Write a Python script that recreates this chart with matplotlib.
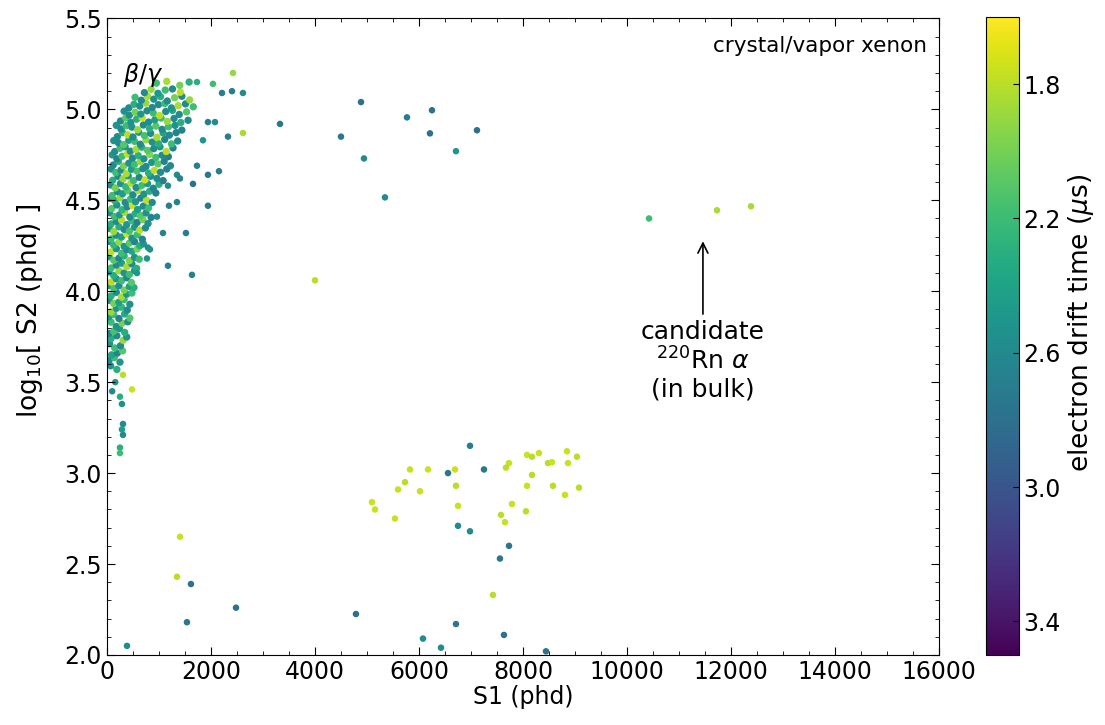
import numpy as np
import matplotlib.pyplot as plt
from matplotlib.ticker import MultipleLocator

# dense beta/gamma band, one entry per row of the band
bulk_row_logs2 = [3.58, 3.62, 3.66, 3.70, 3.74, 3.78, 3.82, 3.86, 3.90, 3.94,
                  3.98, 4.02, 4.06, 4.10, 4.14, 4.18, 4.22, 4.26, 4.30, 4.34,
                  4.38, 4.42, 4.46, 4.50, 4.54, 4.58, 4.62, 4.66, 4.70, 4.74,
                  4.78, 4.82, 4.86, 4.90, 4.94, 4.98, 5.02, 5.06, 5.10, 5.14]
bulk_row_s1 = [
    [70, 190],
    [40, 140, 250],
    [90, 200, 300],
    [50, 150, 260],
    [80, 190, 310, 380],
    [40, 130, 240, 340],
    [80, 180, 290, 400],
    [40, 130, 230, 340, 440],
    [80, 180, 280, 390],
    [40, 130, 230, 330, 440],
    [80, 180, 280, 380, 480],
    [40, 130, 230, 330, 430, 520],
    [80, 180, 280, 380, 470],
    [40, 130, 230, 330, 430, 530],
    [80, 180, 280, 380, 480, 570],
    [40, 130, 230, 330, 430, 530, 620],
    [80, 180, 280, 380, 480, 580],
    [40, 130, 230, 330, 430, 530, 630, 700],
    [80, 180, 280, 380, 480, 580, 680],
    [40, 130, 230, 330, 430, 530, 630, 740],
    [80, 180, 280, 380, 480, 580, 690, 790],
    [50, 140, 240, 340, 440, 540, 640, 750, 850],
    [90, 190, 290, 390, 490, 590, 700, 800],
    [60, 150, 250, 350, 450, 550, 650, 760, 870],
    [100, 200, 300, 400, 500, 600, 710, 820, 940],
    [70, 160, 260, 360, 460, 560, 670, 780, 890, 1000],
    [110, 210, 310, 410, 510, 620, 730, 840, 960, 1080],
    [80, 170, 270, 370, 470, 580, 690, 800, 910, 1030, 1150],
    [120, 220, 320, 420, 530, 640, 750, 860, 980, 1100, 1220],
    [100, 190, 290, 390, 490, 600, 710, 820, 940, 1060, 1180],
    [150, 250, 350, 450, 560, 670, 780, 900, 1020, 1140, 1270],
    [130, 220, 320, 420, 530, 640, 750, 870, 990, 1110, 1240, 1360],
    [200, 300, 400, 500, 610, 720, 840, 960, 1080, 1200, 1330],
    [180, 270, 370, 480, 590, 700, 820, 940, 1060, 1180, 1310, 1440],
    [260, 360, 460, 570, 680, 800, 920, 1040, 1160, 1290, 1420, 1560],
    [330, 430, 540, 650, 770, 890, 1010, 1130, 1260, 1390, 1530],
    [420, 520, 630, 750, 870, 990, 1110, 1240, 1370, 1510, 1660],
    [540, 660, 780, 900, 1030, 1160, 1300, 1440, 1590],
    [720, 850, 980, 1120, 1260, 1410],
    [950, 1150, 1400, 1580],
]
# small vertical offsets of the points inside each row
bulk_row_dy = [
    [0.01, -0.01],
    [0.0, 0.015, -0.01],
    [-0.01, 0.0, 0.012],
    [0.012, -0.012, 0.0],
    [0.0, 0.015, -0.01, 0.008],
    [-0.012, 0.0, 0.014, -0.006],
    [0.01, -0.014, 0.004, 0.012],
    [0.0, 0.012, -0.01, 0.015, -0.008],
    [-0.014, 0.006, 0.012, -0.004],
    [0.01, -0.008, 0.0, 0.014, -0.012],
    [-0.006, 0.014, -0.012, 0.004, 0.01],
    [0.012, -0.004, 0.01, -0.014, 0.006, 0.0],
    [-0.01, 0.008, -0.002, 0.014, -0.012],
    [0.006, -0.014, 0.012, 0.0, -0.008, 0.014],
    [-0.012, 0.004, 0.014, -0.006, 0.01, -0.014],
    [0.01, -0.01, 0.002, 0.014, -0.012, 0.006, -0.004],
    [-0.004, 0.014, -0.012, 0.008, 0.0, 0.012],
    [0.014, -0.006, 0.01, -0.014, 0.004, 0.012, -0.01, 0.0],
    [-0.012, 0.008, -0.002, 0.014, -0.008, 0.01, -0.014],
    [0.006, -0.012, 0.014, 0.0, -0.01, 0.012, -0.004, 0.008],
    [-0.01, 0.004, 0.012, -0.014, 0.008, -0.002, 0.014, -0.008],
    [0.012, -0.01, 0.0, 0.014, -0.012, 0.006, -0.004, 0.01, -0.014],
    [-0.006, 0.014, -0.012, 0.004, 0.012, -0.01, 0.008, -0.002],
    [0.01, -0.002, 0.014, -0.012, 0.006, -0.008, 0.012, 0.0, -0.012],
    [-0.014, 0.008, -0.004, 0.012, -0.01, 0.014, -0.006, 0.01, 0.0],
    [0.004, -0.012, 0.012, -0.006, 0.014, -0.01, 0.002, 0.012, -0.014, 0.008],
    [-0.01, 0.012, -0.002, 0.014, -0.012, 0.006, -0.008, 0.012, 0.0, -0.012],
    [0.012, -0.008, 0.006, -0.014, 0.01, 0.0, 0.014, -0.01, 0.004, -0.006, 0.012],
    [-0.006, 0.014, -0.012, 0.004, -0.002, 0.012, -0.014, 0.008, 0.0, 0.014, -0.01],
    [0.01, -0.012, 0.002, 0.014, -0.008, 0.006, -0.012, 0.012, -0.004, 0.008, 0.0],
    [-0.012, 0.006, 0.014, -0.01, 0.0, 0.012, -0.006, 0.004, 0.014, -0.012, 0.008],
    [0.008, -0.004, -0.014, 0.01, 0.004, -0.012, 0.012, 0.0, -0.008, 0.014, -0.01, 0.006],
    [-0.01, 0.012, 0.0, -0.012, 0.014, -0.004, 0.008, -0.014, 0.01, -0.002, 0.012],
    [0.012, -0.008, 0.01, 0.002, -0.012, 0.014, -0.006, 0.008, -0.01, 0.004, 0.012, -0.014],
    [-0.004, 0.012, -0.012, 0.006, 0.014, -0.01, 0.002, 0.012, -0.006, 0.01, -0.012, 0.0],
    [0.01, -0.012, 0.004, -0.006, 0.012, 0.0, -0.014, 0.008, 0.014, -0.008, 0.006],
    [-0.012, 0.008, -0.002, 0.014, -0.01, 0.006, 0.012, -0.012, 0.0, 0.01, -0.006],
    [0.006, -0.01, 0.012, -0.004, 0.01, -0.014, 0.004, 0.012, -0.008],
    [-0.008, 0.01, -0.012, 0.006, 0.012, -0.006],
    [0.004, 0.014, -0.008, 0.01],
]
bulk_row_drift = [
    [2.55, 2.3],
    [2.6, 2.2, 2.5],
    [2.4, 2.65, 2.1],
    [2.55, 2.2, 2.6],
    [2.3, 2.6, 1.9, 2.5],
    [2.65, 2.15, 2.5, 2.3],
    [2.2, 2.55, 2.0, 2.6],
    [2.5, 2.2, 2.65, 2.35, 2.1],
    [1.9, 2.55, 2.25, 2.6],
    [2.6, 2.0, 2.45, 2.2, 2.55],
    [2.3, 2.6, 1.85, 2.5, 2.2],
    [2.55, 2.15, 2.6, 2.0, 2.45, 2.3],
    [1.8, 2.5, 2.2, 2.65, 2.1],
    [2.6, 2.3, 1.9, 2.55, 2.2, 2.5],
    [2.2, 2.6, 2.45, 1.85, 2.6, 2.3],
    [2.5, 2.1, 2.65, 2.3, 1.95, 2.55, 2.2],
    [1.8, 2.55, 2.2, 2.6, 2.4, 2.0],
    [2.6, 2.25, 1.9, 2.55, 2.1, 2.65, 2.3, 2.5],
    [2.2, 2.6, 2.45, 1.75, 2.55, 2.2, 2.65],
    [2.55, 1.9, 2.3, 2.6, 2.15, 2.5, 1.8, 2.6],
    [2.3, 2.6, 1.8, 2.5, 2.2, 2.65, 2.0, 2.55],
    [2.6, 2.2, 2.5, 1.85, 2.6, 2.3, 2.1, 2.55, 2.65],
    [2.1, 2.55, 2.25, 2.6, 1.75, 2.45, 2.6, 2.2],
    [2.55, 2.3, 1.9, 2.6, 2.2, 2.5, 2.65, 1.8, 2.6],
    [2.2, 2.6, 2.45, 2.1, 2.6, 1.85, 2.55, 2.3, 2.65],
    [2.6, 2.0, 2.55, 2.25, 1.8, 2.6, 2.2, 2.5, 2.65, 2.3],
    [2.3, 2.6, 1.9, 2.5, 2.2, 2.65, 1.75, 2.55, 2.6, 2.7],
    [2.55, 2.2, 2.6, 1.85, 2.45, 2.15, 2.6, 2.3, 1.8, 2.6, 2.65],
    [2.6, 2.3, 2.0, 2.55, 2.2, 1.9, 2.6, 2.5, 2.1, 2.65, 2.6],
    [2.5, 2.65, 2.2, 1.8, 2.6, 2.3, 2.55, 1.95, 2.2, 2.6, 2.7],
    [2.6, 2.2, 2.5, 2.6, 1.85, 2.3, 2.1, 2.6, 2.5, 1.8, 2.65],
    [2.55, 2.6, 2.1, 2.45, 2.2, 2.6, 1.9, 2.55, 2.3, 2.65, 2.2, 2.6],
    [2.6, 2.3, 1.8, 2.6, 2.5, 2.15, 2.6, 1.85, 2.4, 2.6, 2.65],
    [2.5, 2.6, 2.2, 2.55, 1.9, 2.6, 2.3, 2.1, 2.6, 2.2, 2.55, 2.65],
    [2.6, 2.1, 2.55, 2.3, 1.75, 2.6, 2.45, 2.2, 1.9, 2.6, 2.3, 2.6],
    [2.55, 2.6, 2.0, 2.5, 2.6, 2.2, 1.8, 2.6, 2.35, 2.6, 2.1],
    [2.6, 2.3, 2.55, 1.9, 2.6, 2.6, 2.2, 2.5, 1.85, 2.6, 2.2],
    [2.2, 2.6, 1.85, 2.55, 2.3, 2.6, 2.0, 2.6, 1.9],
    [2.6, 1.9, 2.5, 2.2, 2.6, 1.8],
    [2.2, 1.85, 2.0, 2.3],
]

# scattered events outside the dense band
sparse_s1 = [2423, 2615, 2212, 2404, 2615, 1731, 2038, 1942, 2077, 2327,
             1846, 1731, 1942, 2154, 1654, 1346, 1404, 1173, 1346, 1192,
             1942, 962, 1077, 1519, 788, 827, 1173, 1635, 769, 577,
             308, 481, 250, 288, 308, 288, 308, 250, 250, 160, 100,
             3327, 4885, 4500, 4942, 5769, 6250, 6211, 6711, 7115, 5346,
             4000, 10423, 11730, 12384,
             5096, 5154, 5538, 5596, 5731, 5827, 6019, 6173, 6558, 6692,
             6711, 6750, 6981, 7250, 6750, 6981, 7557, 7731, 7423, 7634,
             7730, 7673, 8077, 8173, 8307, 8480, 8557, 8846, 9038, 8865,
             8173, 8077, 8576, 8807, 9077, 7788, 7577, 7654, 8057,
             1404, 1346, 1615, 1538, 2481, 4788, 385, 6077, 6423, 6711, 8442]
sparse_logs2 = [5.20, 4.87, 5.09, 5.10, 5.09, 5.15, 5.14, 4.93, 4.93, 4.85,
                4.83, 4.69, 4.64, 4.66, 4.59, 4.64, 4.62, 4.58, 4.49, 4.47,
                4.47, 4.41, 4.32, 4.32, 4.24, 4.23, 4.14, 4.09, 4.18, 4.10,
                3.54, 3.46, 3.42, 3.38, 3.27, 3.24, 3.21, 3.14, 3.11, 3.50, 3.45,
                4.92, 5.04, 4.85, 4.73, 4.956, 4.995, 4.868, 4.77, 4.885, 4.516,
                4.06, 4.40, 4.445, 4.467,
                2.84, 2.80, 2.75, 2.91, 2.95, 3.02, 2.90, 3.02, 3.00, 3.02,
                2.93, 2.82, 3.15, 3.02, 2.71, 2.68, 2.53, 2.60, 2.33, 2.11,
                3.055, 3.03, 3.10, 3.09, 3.11, 3.055, 3.06, 3.12, 3.09, 3.055,
                2.99, 2.93, 2.93, 2.88, 2.92, 2.83, 2.77, 2.73, 2.79,
                2.65, 2.43, 2.39, 2.18, 2.26, 2.225, 2.05, 2.09, 2.04, 2.17, 2.02]
sparse_drift = [1.9, 1.85, 2.7, 2.7, 2.6, 2.3, 2.2, 2.7, 2.6, 2.7,
                2.5, 2.7, 2.75, 2.7, 2.8, 2.6, 2.65, 2.6, 2.65, 2.7,
                2.75, 2.6, 2.65, 2.7, 2.6, 2.55, 2.7, 2.65, 2.5, 2.5,
                1.8, 1.75, 2.3, 2.55, 2.6, 2.45, 2.6, 2.3, 2.2, 2.5, 2.6,
                2.75, 2.8, 2.75, 2.6, 2.7, 2.8, 2.8, 2.5, 2.8, 2.6,
                1.8, 2.2, 1.85, 1.85,
                1.75, 1.75, 1.75, 1.75, 1.8, 1.75, 1.75, 1.75, 2.75, 1.75,
                1.8, 1.75, 2.7, 2.75, 2.6, 2.6, 2.75, 2.75, 1.8, 2.8,
                1.75, 1.8, 1.75, 1.8, 1.75, 1.8, 1.75, 1.75, 1.8, 1.75,
                1.8, 1.75, 1.8, 1.75, 1.8, 1.75, 1.8, 1.75, 1.8,
                1.75, 1.8, 2.8, 2.75, 2.8, 2.8, 2.6, 2.6, 2.6, 2.75, 2.8]

bulk_s1 = np.concatenate([np.array(r, float) for r in bulk_row_s1])
bulk_logs2 = np.concatenate([y + np.array(d) for y, d in zip(bulk_row_logs2, bulk_row_dy)])
bulk_drift = np.concatenate([np.array(r, float) for r in bulk_row_drift])

plt.rcParams['font.family'] = 'DejaVu Sans'
fig = plt.figure(figsize=(11.05, 7.25), dpi=100)
ax = fig.add_axes([0.0968, 0.0966, 0.753, 0.878])
cax = fig.add_axes([0.892, 0.0966, 0.030, 0.880])

sc = ax.scatter(bulk_s1, bulk_logs2, c=bulk_drift, cmap='viridis_r', vmin=1.6, vmax=3.5,
                s=28, linewidths=0)
ax.scatter(sparse_s1, sparse_logs2, c=sparse_drift, cmap='viridis_r', vmin=1.6, vmax=3.5,
           s=22, linewidths=0)

ax.set_xlim(0, 16000)
ax.set_ylim(2.0, 5.5)
ax.xaxis.set_major_locator(MultipleLocator(2000))
ax.xaxis.set_minor_locator(MultipleLocator(500))
ax.yaxis.set_major_locator(MultipleLocator(0.5))
ax.yaxis.set_minor_locator(MultipleLocator(0.1))
ax.tick_params(which='both', direction='in', top=True, right=True, labelsize=17)
ax.tick_params(which='major', length=6)
ax.tick_params(which='minor', length=3)
ax.set_xlabel('S1 (phd)', fontsize=17, labelpad=1)
ax.set_ylabel(r'log$_{10}$[ S2 (phd) ]', fontsize=19)
ax.yaxis.set_label_coords(-0.075, 0.54)

ax.text(300, 5.19, r'$\beta/\gamma$', fontsize=17, va='center')
ax.text(0.985, 0.972, 'crystal/vapor xenon', transform=ax.transAxes,
        ha='right', va='top', fontsize=15.5)
ax.annotate('candidate\n$^{220}$Rn $\\alpha$\n(in bulk)', xy=(11460, 4.29),
            xytext=(11460, 3.62), ha='center', va='center', fontsize=18,
            linespacing=1.15, arrowprops=dict(arrowstyle='->', color='black', lw=1.2))

cb = fig.colorbar(sc, cax=cax)
cb.ax.invert_yaxis()
cb.set_ticks([1.8, 2.2, 2.6, 3.0, 3.4])
cb.ax.tick_params(direction='in', labelsize=17, length=4)
cb.set_label(r'electron drift time ($\mu$s)', fontsize=19)
cb.ax.yaxis.set_label_coords(2.42, 0.52)

fig.savefig('out.png', dpi=100)
